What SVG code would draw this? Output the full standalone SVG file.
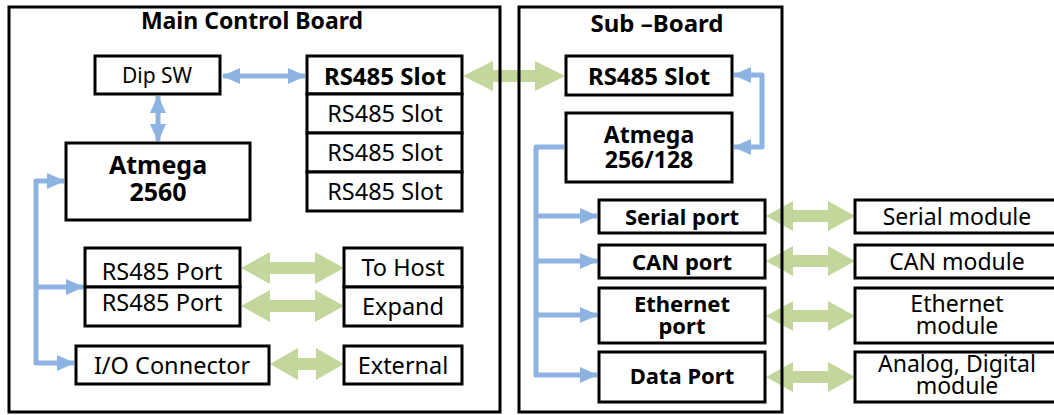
<svg xmlns="http://www.w3.org/2000/svg" width="1054" height="415" viewBox="0 0 1054 415">
<style>
.box{fill:#fff;stroke:#000;stroke-width:3}
.frame{fill:none;stroke:#000;stroke-width:3}
.t{font-family:"Noto Sans","Open Sans","Liberation Sans",sans-serif;font-size:23.5px;fill:#000;text-anchor:middle;dominant-baseline:central}
.m{font-size:23px}
.b{font-weight:bold;font-size:22px}
.slotb{font-weight:bold;font-size:24px}
.big{font-weight:bold;font-size:25px}
.mid{font-weight:bold;font-size:23px}
.title{font-size:23px;font-weight:bold}
.blue{fill:none;stroke:#8db3e2;stroke-width:5;stroke-linejoin:round}
.green{fill:#c3d69b;stroke:none}
</style>
<defs>
<marker id="ah" viewBox="0 0 18 16" refX="17" refY="8" markerWidth="18" markerHeight="16" markerUnits="userSpaceOnUse" orient="auto-start-reverse">
<path d="M0,0 L18,8 L0,16 Z" fill="#8db3e2"/>
</marker>
</defs>
<rect width="1054" height="415" fill="#fff"/>
<g id="connectors">
<path class="blue" d="M223,76 H305" marker-start="url(#ah)" marker-end="url(#ah)"/>
<path class="blue" d="M158,96 V141" marker-start="url(#ah)" marker-end="url(#ah)"/>
<path class="blue" d="M64,181 H36 V363 H74" marker-start="url(#ah)" marker-end="url(#ah)"/>
<path class="blue" d="M36,287 H83" marker-end="url(#ah)"/>
<path class="blue" d="M734,75 H762 V147 H734" marker-start="url(#ah)" marker-end="url(#ah)"/>
<path class="blue" d="M564,147 H536 V375 H597" marker-end="url(#ah)"/>
<path class="blue" d="M536,216 H597" marker-end="url(#ah)"/>
<path class="blue" d="M536,261 H597" marker-end="url(#ah)"/>
<path class="blue" d="M536,315 H597" marker-end="url(#ah)"/>
<polygon class="green" points="463,76 493,61 493,70 535,70 535,61 565,76 535,91 535,82 493,82 493,91"/>
<polygon class="green" points="241,268 270,252 270,262 315,262 315,252 344,268 315,284 315,274 270,274 270,284"/>
<polygon class="green" points="241,306 270,290 270,300 315,300 315,290 344,306 315,322 315,312 270,312 270,322"/>
<polygon class="green" points="270,364 298,348 298,358 316,358 316,348 344,364 316,380 316,370 298,370 298,380"/>
<polygon class="green" points="766,216 793,201 793,210 828,210 828,201 855,216 828,231 828,222 793,222 793,231"/>
<polygon class="green" points="766,261 793,246 793,255 828,255 828,246 855,261 828,276 828,267 793,267 793,276"/>
<polygon class="green" points="766,316 793,301 793,310 828,310 828,301 855,316 828,331 828,322 793,322 793,331"/>
<polygon class="green" points="766,377 793,362 793,371 828,371 828,362 855,377 828,392 828,383 793,383 793,392"/>
</g>
<g id="main-board">
<rect class="frame" x="9" y="7" width="491" height="405"/>
<text class="t title" x="252" y="20">Main Control Board</text>
</g>
<g id="sub-board">
<rect class="frame" x="519" y="7" width="263" height="405"/>
<text class="t title" x="657" y="22" style="font-size:24px">Sub –Board</text>
</g>
<g id="dip-sw"><rect class="box" x="95" y="56" width="125" height="38"/><text class="t" x="157" y="75" style="font-size:21px">Dip SW</text></g>
<g id="slot1"><rect class="box" x="307" y="56" width="155" height="38"/><text class="t slotb" x="385" y="75">RS485 Slot</text></g>
<g id="slot2"><rect class="box" x="307" y="94" width="155" height="39"/><text class="t" x="385" y="113">RS485 Slot</text></g>
<g id="slot3"><rect class="box" x="307" y="133" width="155" height="39"/><text class="t" x="385" y="152">RS485 Slot</text></g>
<g id="slot4"><rect class="box" x="307" y="172" width="155" height="39"/><text class="t" x="385" y="191">RS485 Slot</text></g>
<g id="atmega2560"><rect class="box" x="66" y="143" width="184" height="77"/><text class="t big"><tspan x="158" y="164">Atmega</tspan><tspan x="158" y="191">2560</tspan></text></g>
<g id="rs485-port1"><rect class="box" x="85" y="248" width="155" height="39"/><text class="t" x="162" y="271">RS485 Port</text></g>
<g id="rs485-port2"><rect class="box" x="85" y="287" width="155" height="39"/><text class="t" x="162" y="302">RS485 Port</text></g>
<g id="to-host"><rect class="box" x="344" y="248" width="118" height="39"/><text class="t" x="403" y="267">To Host</text></g>
<g id="expand"><rect class="box" x="344" y="287" width="118" height="39"/><text class="t" x="403" y="306">Expand</text></g>
<g id="io-connector"><rect class="box" x="76" y="346" width="193" height="38"/><text class="t" x="172" y="365">I/O Connector</text></g>
<g id="external"><rect class="box" x="344" y="346" width="118" height="38"/><text class="t" x="403" y="365">External</text></g>
<g id="sub-slot"><rect class="box" x="566" y="56" width="166" height="39"/><text class="t slotb" x="649" y="75">RS485 Slot</text></g>
<g id="atmega256"><rect class="box" x="566" y="113" width="166" height="69"/><text class="t mid"><tspan x="649" y="134">Atmega</tspan><tspan x="649" y="159">256/128</tspan></text></g>
<g id="serial-port"><rect class="box" x="599" y="200" width="166" height="33"/><text class="t b" x="682" y="216">Serial port</text></g>
<g id="can-port"><rect class="box" x="599" y="245" width="166" height="33"/><text class="t b" x="682" y="261">CAN port</text></g>
<g id="ethernet-port"><rect class="box" x="599" y="288" width="166" height="55"/><text class="t b"><tspan x="682" y="302.5">Ethernet</tspan><tspan x="682" y="324.5">port</tspan></text></g>
<g id="data-port"><rect class="box" x="599" y="352" width="166" height="50"/><text class="t b" x="682" y="375">Data Port</text></g>
<g id="serial-module"><rect class="box" x="855" y="200" width="205" height="33"/><text class="t m" x="957" y="216">Serial module</text></g>
<g id="can-module"><rect class="box" x="855" y="245" width="205" height="33"/><text class="t m" x="957" y="261">CAN module</text></g>
<g id="ethernet-module"><rect class="box" x="855" y="288" width="205" height="55"/><text class="t m"><tspan x="957" y="302.5">Ethernet</tspan><tspan x="957" y="324.5">module</tspan></text></g>
<g id="analog-module"><rect class="box" x="855" y="352" width="205" height="50"/><text class="t m"><tspan x="957" y="363">Analog, Digital</tspan><tspan x="957" y="385">module</tspan></text></g>
</svg>
